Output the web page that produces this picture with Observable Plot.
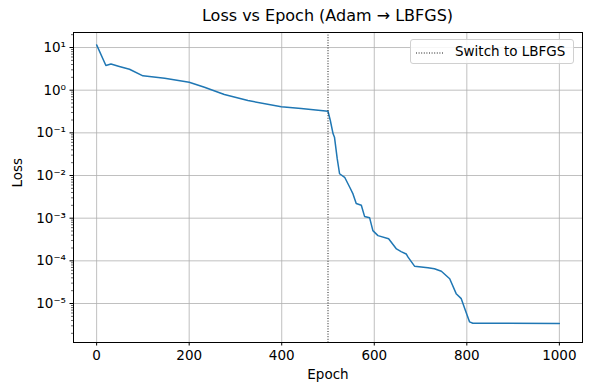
<!DOCTYPE html>
<html>
<head>
<meta charset="utf-8">
<script src="https://cdn.jsdelivr.net/npm/d3@7"></script>
<script src="https://cdn.jsdelivr.net/npm/@observablehq/plot@0.6"></script>
<style>
  body { margin: 0; background: #fff; font-family: "DejaVu Sans", sans-serif; }
  #wrap { position: relative; width: 590px; height: 390px; }
  #title { box-sizing: border-box; width: 590px; height: 28px; padding: 4px 8px 0 73px; text-align: center; font-size: 16px; line-height: 24px; color: #000; }
  #legend { position: absolute; left: 410px; top: 39px; width: 164px; height: 25px; box-sizing: border-box; border: 1px solid #d0d0d0; border-radius: 3px; background: rgba(255,255,255,0.85); font-size: 13.5px; }
  #legend svg { position: absolute; left: 4px; top: 11px; }
  #legend span { position: absolute; left: 44px; top: 3px; line-height: 17px; }
</style>
</head>
<body>
<div id="wrap">
  <div id="title">Loss vs Epoch (Adam → LBFGS)</div>
  <div id="chart"></div>
  <div id="legend"><svg width="30" height="4"><line x1="1" x2="29" y1="2" y2="2" stroke="#000" stroke-width="0.9" stroke-dasharray="1,1.6"/></svg><span>Switch to LBFGS</span></div>
</div>
<script>
const epochs = [0, 20, 31, 49, 71, 100, 147, 200, 233, 276, 327, 399, 442, 500, 505, 511, 514, 520, 525, 536, 547, 554, 561, 572, 579, 590, 597, 608, 631, 648, 658, 669, 673, 687, 716, 730, 745, 763, 777, 788, 797, 806, 813, 1000];
const losses = [11.5, 3.8, 4.1, 3.6, 3.1, 2.17, 1.9, 1.54, 1.17, 0.79, 0.57, 0.41, 0.37, 0.32, 0.195, 0.095, 0.079, 0.0245, 0.011, 0.0091, 0.0053, 0.0037, 0.0022, 0.002, 0.0011, 0.00102, 0.00051, 0.00039, 0.00033, 0.00019, 0.000165, 0.000145, 0.000122, 0.000075, 0.000069, 0.000065, 0.000057, 0.000038, 0.000017, 0.000013, 0.0000069, 0.0000037, 0.00000345, 0.0000034];
const switchEpoch = [500];
const xTicks = [0, 200, 400, 600, 800, 1000];
const yTicks = [1e1, 1e0, 1e-1, 1e-2, 1e-3, 1e-4, 1e-5];
const yTickLabels = ["10¹", "10⁰", "10⁻¹", "10⁻²", "10⁻³", "10⁻⁴", "10⁻⁵"];

const data = epochs.map((e, i) => ({epoch: e, loss: losses[i]}));
const yMin = Math.pow(10, -5.914), yMax = Math.pow(10, 1.352);
const minorTicks = [];
for (let k = -6; k <= 1; k++) for (let m = 2; m <= 9; m++) {
  const v = m * Math.pow(10, k);
  if (v > yMin && v < yMax) minorTicks.push(v);
}
const labelMap = new Map(yTicks.map((t, i) => [t, yTickLabels[i]]));

const chart = Plot.plot({
  width: 590,
  height: 362,
  marginTop: 4,
  marginBottom: 48,
  marginLeft: 73,
  marginRight: 8,
  style: {fontFamily: "DejaVu Sans, sans-serif", fontSize: "13.5px", color: "#000", background: "#fff"},
  x: {domain: [-50, 1050], label: null},
  y: {type: "log", domain: [yMin, yMax], label: null},
  marks: [
    Plot.gridX(xTicks, {stroke: "#b0b0b0", strokeOpacity: 1, strokeWidth: 0.8}),
    Plot.gridY(yTicks, {stroke: "#b0b0b0", strokeOpacity: 1, strokeWidth: 0.8}),
    Plot.axisX({ticks: xTicks, tickSize: 3.5, tickPadding: 4, tickFormat: d => String(d), fontSize: 13.5, label: null}),
    Plot.axisY({ticks: yTicks, tickSize: 3.5, tickPadding: 4, tickFormat: d => labelMap.get(d), fontSize: 13.5, label: null}),
    Plot.axisY({ticks: minorTicks, tickSize: 2, tickFormat: () => "", strokeWidth: 0.6, label: null}),
    Plot.line(data, {x: "epoch", y: "loss", stroke: "#1f77b4", strokeWidth: 1.5}),
    Plot.ruleX(switchEpoch, {stroke: "#000", strokeWidth: 0.9, strokeDasharray: "1,1.6"}),
    Plot.frame({stroke: "#000", strokeWidth: 1}),
    Plot.text(["Epoch"], {frameAnchor: "bottom", dy: 36, fontSize: 13.5}),
    Plot.text(["Loss"], {frameAnchor: "left", dx: -56, rotate: -90, fontSize: 13.5})
  ]
});
document.getElementById("chart").appendChild(chart);
</script>
</body>
</html>
